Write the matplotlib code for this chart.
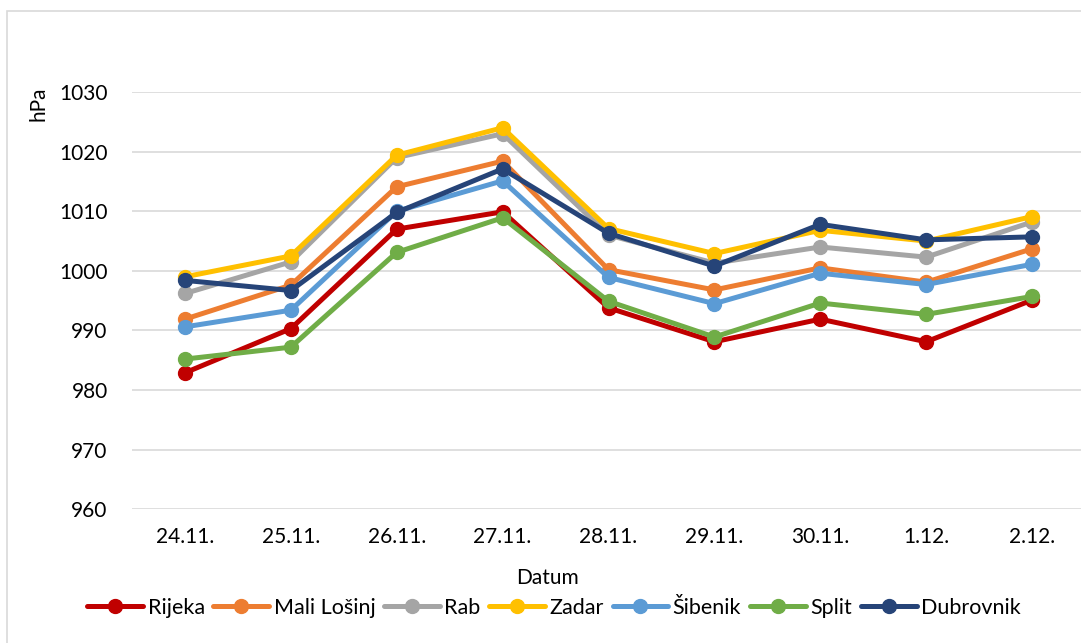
import matplotlib.pyplot as plt
from matplotlib.patches import Rectangle

dates = ['24.11.', '25.11.', '26.11.', '27.11.', '28.11.', '29.11.', '30.11.', '1.12.', '2.12.']

rijeka = [982.9, 990.3, 1007.0, 1009.9, 993.8, 988.1, 991.9, 988.1, 995.1]
mali_losinj = [991.9, 997.6, 1014.1, 1018.4, 1000.2, 996.8, 1000.5, 998.1, 1003.7]
rab = [996.2, 1001.5, 1019.0, 1023.0, 1006.0, 1001.3, 1004.0, 1002.3, 1008.2]
zadar = [999.0, 1002.5, 1019.4, 1024.0, 1007.1, 1002.9, 1006.8, 1005.0, 1009.1]
sibenik = [990.6, 993.4, 1010.0, 1015.1, 998.9, 994.5, 999.6, 997.7, 1001.1]
split = [985.2, 987.2, 1003.1, 1008.9, 994.9, 988.9, 994.6, 992.7, 995.7]
dubrovnik = [998.4, 996.7, 1009.8, 1017.1, 1006.3, 1000.8, 1007.8, 1005.2, 1005.7]

series = [
    ('Rijeka', rijeka, '#C00000'),
    ('Mali Lošinj', mali_losinj, '#ED7D31'),
    ('Rab', rab, '#A5A5A5'),
    ('Zadar', zadar, '#FFC000'),
    ('Šibenik', sibenik, '#5B9BD5'),
    ('Split', split, '#70AD47'),
    ('Dubrovnik', dubrovnik, '#264478'),
]

plt.rcParams['font.family'] = ['Lato', 'DejaVu Sans']

W, H = 1081, 643
fig = plt.figure(figsize=(W / 100, H / 100), dpi=100)
fig.patches.append(Rectangle((6.5 / W, -0.05), 1.1, (H - 11) / H + 0.05,
                             transform=fig.transFigure, fill=False,
                             edgecolor='#D9D9D9', linewidth=1.2))

ax = fig.add_axes([132 / W, (H - 509.3) / H, (1085 - 132) / W, (509.3 - 92) / H])
x = list(range(len(dates)))
for name, vals, col in series:
    ax.plot(x, vals, color=col, linewidth=3.6, marker='o', markersize=10,
            label=name, solid_capstyle='round')

ax.set_xlim(-0.5, len(dates) - 0.5)
ax.set_ylim(960, 1030)
ax.set_yticks(range(960, 1031, 10))
ax.set_xticks(x)
ax.set_xticklabels(dates)
ax.grid(axis='y', color='#D9D9D9', linewidth=1.2)
ax.set_axisbelow(True)
for s in ax.spines.values():
    s.set_visible(False)
ax.tick_params(axis='both', length=0, labelsize=15, colors='black')
ax.tick_params(axis='y', pad=17.5)
ax.tick_params(axis='x', pad=13)

fig.text(39 / W, 1 - 104 / H, 'hPa', rotation=90, ha='center', va='center', fontsize=15)
fig.text(547 / W, 1 - 578 / H, 'Datum', ha='center', va='center', fontsize=15)

fig.legend(loc='center', bbox_to_anchor=(554 / W, 1 - 608 / H), ncol=7, frameon=False,
           fontsize=15.5, handlelength=2.6, handletextpad=0.2, columnspacing=0.4,
           borderpad=0)

fig.savefig('out.png', dpi=100)
